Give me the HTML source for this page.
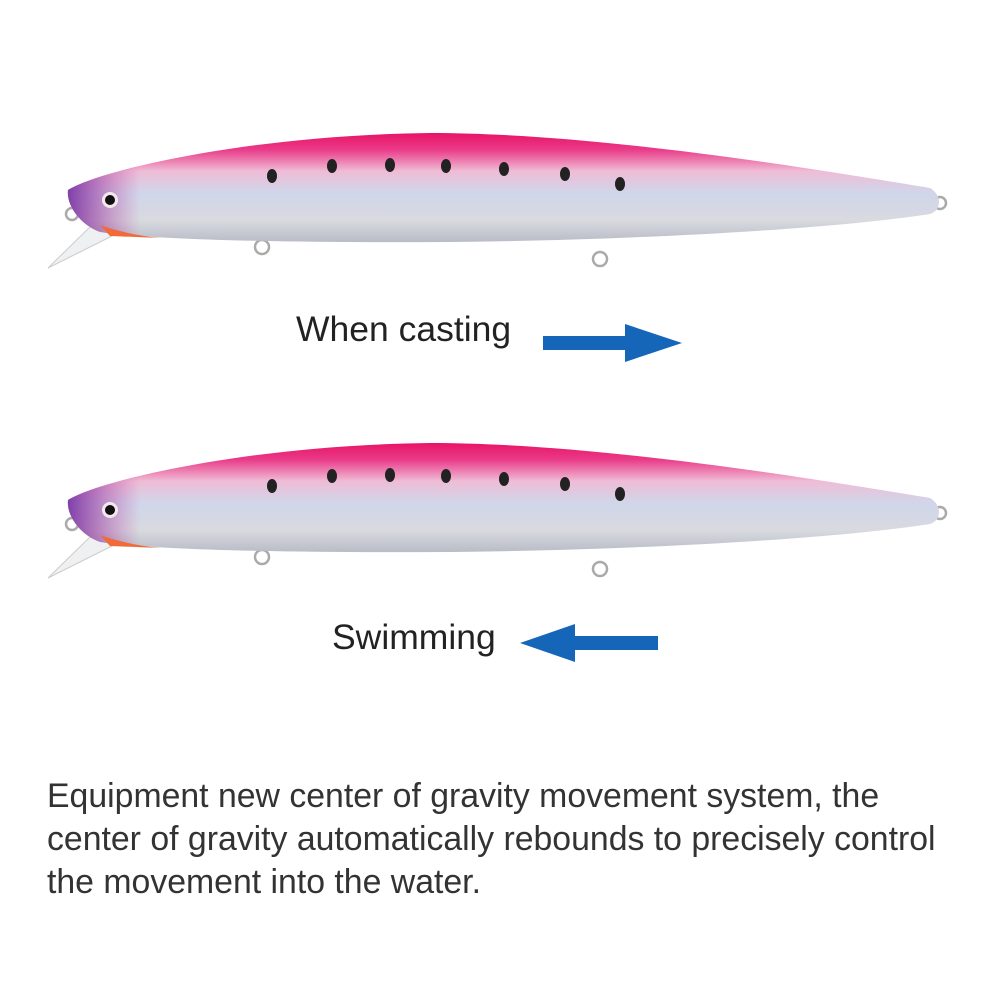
<!DOCTYPE html>
<html><head><style>
body{margin:0;background:#fff;width:1000px;height:1000px;overflow:hidden;font-family:"Liberation Sans",sans-serif;}
.t{position:absolute;color:#222;white-space:nowrap}
</style></head><body>
<svg width="1000" height="1000" style="position:absolute;left:0;top:0">
<defs>
<linearGradient id="g" x1="0" y1="0" x2="0" y2="1">
<stop offset="0" stop-color="#e81466"/>
<stop offset="0.15" stop-color="#ea3a88"/>
<stop offset="0.35" stop-color="#efbcd6"/>
<stop offset="0.55" stop-color="#d0d6ea"/>
<stop offset="0.8" stop-color="#d8dae0"/>
<stop offset="1" stop-color="#b8bcc6"/>
</linearGradient>
<linearGradient id="h" x1="0" y1="0" x2="1" y2="0">
<stop offset="0" stop-color="#6a1a9a" stop-opacity="0.8"/>
<stop offset="0.2" stop-color="#c02090" stop-opacity="0"/>
</linearGradient>
<g id="lure">
<path d="M48,268 L95,222 L112,236 Z" fill="#eef0f2" stroke="#ccc" stroke-width="1"/>
<circle cx="72" cy="214" r="6" fill="none" stroke="#aaa" stroke-width="2.5"/>
<circle cx="262" cy="247" r="7" fill="none" stroke="#aaa" stroke-width="2.5"/>
<circle cx="600" cy="259" r="7" fill="none" stroke="#aaa" stroke-width="2.5"/>
<circle cx="940" cy="203" r="6" fill="none" stroke="#aaa" stroke-width="2.5"/>
<path d="M68,190 C100,170 250,135 430,133 C600,133 820,170 930,188 C942,195 942,210 930,214 C840,228 650,240 450,242 C300,243 150,240 100,232 C80,225 66,205 68,190 Z" fill="url(#g)"/>
<path d="M68,190 C100,170 250,135 430,133 L430,242 C300,243 150,240 100,232 C80,225 66,205 68,190 Z" fill="url(#h)"/>
<path d="M100,225 C120,232 140,236 160,238 L110,236 Z" fill="#f06a3a"/>
<circle cx="110" cy="200" r="8" fill="#f4e8ee"/><circle cx="110" cy="200" r="5" fill="#111"/>
<g fill="#222"><ellipse cx="272" cy="176" rx="5" ry="7"/><ellipse cx="332" cy="166" rx="5" ry="7"/><ellipse cx="390" cy="165" rx="5" ry="7"/><ellipse cx="446" cy="166" rx="5" ry="7"/><ellipse cx="504" cy="169" rx="5" ry="7"/><ellipse cx="565" cy="174" rx="5" ry="7"/><ellipse cx="620" cy="184" rx="5" ry="7"/></g>
</g>
</defs>
<use href="#lure"/>
<use href="#lure" y="310"/>
<path d="M543,336 H625 V324 L682,343 L625,362 V350 H543 Z" fill="#1565b8"/>
<path d="M658,636 H575 V624 L520,643 L575,662 V650 H658 Z" fill="#1565b8"/>
</svg>
<div class="t" style="left:296px;top:309px;font-size:35.5px">When casting</div>
<div class="t" style="left:332px;top:617px;font-size:35.5px">Swimming</div>
<div class="t" style="left:47px;top:775px;font-size:33.8px;line-height:43px;color:#333">Equipment new center of gravity movement system, the<br>center of gravity automatically rebounds to precisely control<br>the movement into the water.</div>
</body></html>
